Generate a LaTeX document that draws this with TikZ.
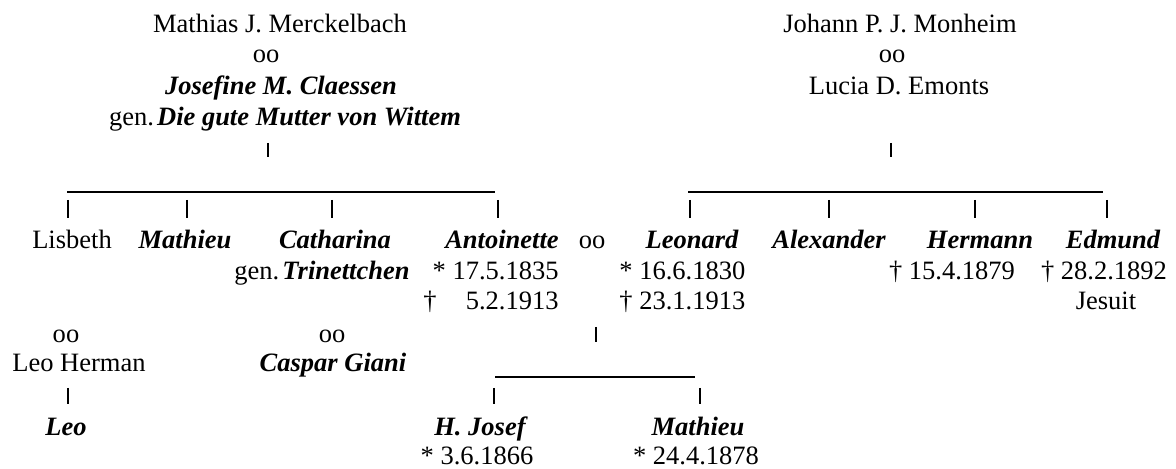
\documentclass[tikz,border=0pt]{standalone}
\usepackage{fontspec}
\setmainfont{Liberation Serif}
\usetikzlibrary{calc}

\begin{document}
\begin{tikzpicture}[x=0.4528pt,y=-0.4528pt,
    txt/.style={anchor=base,inner sep=0pt,font=\fontsize{12}{14}\selectfont},
    nm/.style={txt,font=\fontsize{12}{14}\selectfont\bfseries\itshape},
    bar/.style={line width=0.85pt},
    rule/.style={line width=0.6pt}]
  \useasboundingbox (0,0) rectangle (1176,469);

  \node[txt] (mjm) at (280,33) {Mathias J. Merckelbach};
  \node[txt] (oomc) at (266,63) {oo};
  \node[nm] (jmc) at (281,95) {Josefine M. Claessen};
  \node[txt] (gute) at (285,126) {gen.\kern0.12em\textbf{\textit{Die gute Mutter von Wittem}}};
  \node[txt] (jpm) at (900,33) {Johann P. J. Monheim};
  \node[txt] (oomo) at (892,63) {oo};
  \node[txt] (lde) at (899,95) {Lucia D. Emonts};

  \coordinate (mcbar) at (268,143);
  \coordinate (mobar) at (891,143);
  \draw[bar] (mcbar) -- ++(0,14);
  \draw[bar] (mobar) -- ++(0,14);

  \coordinate (mcl) at (67,192);
  \coordinate (mcr) at (495,192);
  \coordinate (mol) at (688,192);
  \coordinate (mor) at (1103,192);
  \draw[rule] (mcl) -- (mcr);
  \draw[rule] (mol) -- (mor);

  \foreach \n/\x in {lis/68,mat/187,cat/332,ant/498,leo/690,ale/829,her/975,edm/1107} {
    \coordinate (k\n) at (\x,200);
    \draw[bar] (k\n) -- ++(0,18);
  }

  \node[txt] (lis) at (72,249) {Lisbeth};
  \node[nm] (mat) at (185,249) {Mathieu};
  \node[nm] (cat) at (335,249) {Catharina};
  \node[nm] (ant) at (502,249) {Antoinette};
  \node[txt] (ooal) at (592,249) {oo};
  \node[nm] (leo) at (692,249) {Leonard};
  \node[nm] (ale) at (829,249) {Alexander};
  \node[nm] (her) at (980,249) {Hermann};
  \node[nm] (edm) at (1113,249) {Edmund};

  \node[txt] (trin) at (322,280) {gen.\kern0.12em\textbf{\textit{Trinettchen}}};
  \node[txt,anchor=base east] (antb) at (559,280) {* 17.5.1835};
  \node[txt,anchor=base east] (antd) at (559,310) {†\hspace{1.1em}5.2.1913};
  \node[txt,anchor=base west] (leob) at (619,280) {* 16.6.1830};
  \node[txt,anchor=base west] (leod) at (619,310) {† 23.1.1913};
  \node[txt] (herd) at (952,280) {† 15.4.1879};
  \node[txt] (edmd) at (1104,280) {† 28.2.1892};
  \node[txt] (jes) at (1106,310) {Jesuit};

  \coordinate (albar) at (596,327);
  \draw[bar] (albar) -- ++(0,15);

  \node[txt] (oolh) at (66,342) {oo};
  \node[txt] (oocg) at (332,342) {oo};
  \node[txt] (lh) at (79,372) {Leo Herman};
  \node[nm] (cg) at (333,372) {Caspar Giani};

  \coordinate (all) at (495,377);
  \coordinate (alr) at (695,377);
  \draw[rule] (all) -- (alr);

  \foreach \n/\x in {lhk/68,hjk/494,mak/700} {
    \coordinate (\n) at (\x,388);
    \draw[bar] (\n) -- ++(0,16);
  }

  \node[nm] (leok) at (66,435) {Leo};
  \node[nm] (hj) at (480,435) {H. Josef};
  \node[nm] (mak) at (698,435) {Mathieu};
  \node[txt] (hjb) at (477,464) {* 3.6.1866};
  \node[txt] (makb) at (696,464) {* 24.4.1878};
\end{tikzpicture}
\end{document}
